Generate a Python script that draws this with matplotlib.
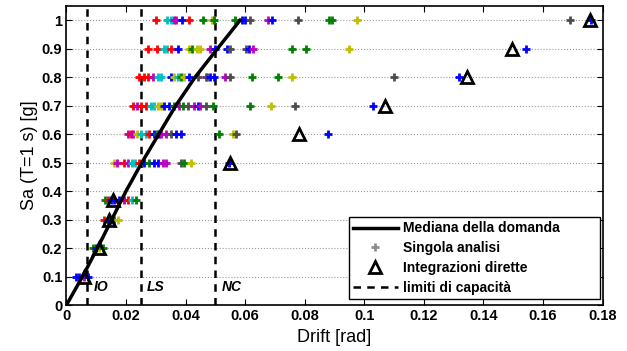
import numpy as np
import matplotlib.pyplot as plt
from matplotlib.lines import Line2D
from matplotlib.ticker import FormatStrFormatter

plt.rcParams['font.family'] = ['Liberation Sans', 'DejaVu Sans']

# MATLAB old default colour order
pal = {
    'b': (0, 0, 1), 'g': (0, 0.5, 0), 'r': (1, 0, 0), 'c': (0, 0.75, 0.75),
    'm': (0.75, 0, 0.75), 'y': (0.75, 0.75, 0), 'k': (0.3, 0.3, 0.3),
}

sa_levels = [0.1, 0.2, 0.3, 0.37, 0.5, 0.6, 0.7, 0.8, 0.9, 1.0]

drift_01 = [0.0033, 0.0043, 0.006, 0.0073]
color_01 = ['b', 'b', 'm', 'b']
drift_02 = [0.009, 0.010, 0.011, 0.0123]
color_02 = ['g', 'b', 'y', 'g']
drift_03 = [0.0127, 0.014, 0.015, 0.016, 0.0173]
color_03 = ['r', 'b', 'b', 'g', 'y']
drift_037 = [0.013, 0.014, 0.015, 0.016, 0.0177, 0.0193, 0.0207, 0.022, 0.0233]
color_037 = ['g', 'r', 'b', 'b', 'b', 'm', 'r', 'c', 'g']
drift_05 = [0.016, 0.017, 0.0193, 0.0207, 0.022, 0.023, 0.0243, 0.026, 0.0277,
            0.0293, 0.0307, 0.0323, 0.0333, 0.0383, 0.0393, 0.0417, 0.0547]
color_05 = ['y', 'm', 'r', 'm', 'c', 'c', 'r', 'b', 'g',
            'b', 'b', 'm', 'm', 'k', 'g', 'y', 'b']
drift_06 = [0.0207, 0.0217, 0.0223, 0.0237, 0.025, 0.0267, 0.0277, 0.0293, 0.0303,
            0.031, 0.0317, 0.0333, 0.035, 0.0367, 0.0383, 0.0513, 0.056, 0.057, 0.0877]
color_06 = ['m', 'r', 'm', 'y', 'c', 'c', 'r', 'b', 'g',
            'b', 'm', 'm', 'k', 'b', 'b', 'g', 'y', 'k', 'b']
drift_07 = [0.0223, 0.0237, 0.025, 0.0267, 0.0283, 0.0293, 0.0307, 0.0317, 0.0327,
            0.0343, 0.036, 0.0377, 0.039, 0.0407, 0.0427, 0.044, 0.045, 0.0467,
            0.0493, 0.0617, 0.0687, 0.0767, 0.103]
color_07 = ['r', 'm', 'r', 'r', 'c', 'c', 'y', 'y', 'b',
            'b', 'g', 'm', 'g', 'k', 'm', 'b', 'm', 'k',
            'g', 'g', 'y', 'k', 'b']
drift_08 = [0.0243, 0.026, 0.0273, 0.029, 0.0307, 0.0317, 0.035, 0.036, 0.0373,
            0.0383, 0.0393, 0.041, 0.0443, 0.0467, 0.0473, 0.0483, 0.0497, 0.0533,
            0.055, 0.0623, 0.071, 0.0757, 0.11, 0.1317]
color_08 = ['r', 'r', 'r', 'm', 'c', 'c', 'b', 'y', 'c',
            'g', 'y', 'b', 'k', 'm', 'k', 'b', 'b', 'm',
            'k', 'g', 'g', 'y', 'k', 'b']
drift_09 = [0.0273, 0.0303, 0.0327, 0.0337, 0.035, 0.0373, 0.041, 0.0423, 0.0437,
            0.0447, 0.0483, 0.05, 0.054, 0.055, 0.0603, 0.0613, 0.0627, 0.0757,
            0.0803, 0.0947, 0.1543]
color_09 = ['r', 'r', 'c', 'c', 'r', 'b', 'y', 'g', 'y',
            'y', 'm', 'b', 'b', 'k', 'k', 'b', 'm', 'g',
            'g', 'y', 'b']
drift_10 = [0.030, 0.0337, 0.035, 0.036, 0.0367, 0.0387, 0.0413, 0.046, 0.049,
            0.0497, 0.0567, 0.059, 0.060, 0.0617, 0.0677, 0.069, 0.0777, 0.0883,
            0.0893, 0.0977, 0.169, 0.176]
color_10 = ['r', 'c', 'c', 'm', 'm', 'b', 'r', 'g', 'y',
            'g', 'g', 'b', 'b', 'k', 'm', 'b', 'k', 'g',
            'g', 'y', 'k', 'b']

drift_rows = [drift_01, drift_02, drift_03, drift_037, drift_05,
              drift_06, drift_07, drift_08, drift_09, drift_10]
color_rows = [color_01, color_02, color_03, color_037, color_05,
              color_06, color_07, color_08, color_09, color_10]

# direct integrations
direct_drift = [0.0058, 0.0109, 0.0144, 0.0156, 0.0548, 0.0781, 0.107, 0.1344, 0.1497, 0.1759]

# median demand curve
median_sa = [0, 0.1, 0.2, 0.3, 0.4, 0.5, 0.6, 0.7, 0.8, 0.9, 1.0]
median_drift = [0, 0.0054, 0.0104, 0.0152, 0.0200, 0.0253, 0.031, 0.0367, 0.0432, 0.0507, 0.0583]

limits = [0.007, 0.025, 0.05]
limit_names = ['IO', 'LS', 'NC']

fig = plt.figure(figsize=(6.27, 3.51), dpi=100)
ax = fig.add_axes([0.106, 0.131, 0.855, 0.852])

for sa, xs, cs in zip(sa_levels, drift_rows, color_rows):
    for x, c in zip(xs, cs):
        ax.plot(x, sa, '+', color=pal[c], ms=6, mew=2, zorder=3)

ax.plot(median_drift, median_sa, '-', color='k', lw=2.5, zorder=4)
ax.plot(direct_drift, sa_levels, '^', mfc='none', mec='k', mew=2, ms=9, zorder=5)

for xl, name in zip(limits, limit_names):
    ax.axvline(xl, color='k', ls='--', lw=1.8, dashes=(3, 2.5), zorder=2)
    ax.text(xl + 0.002, 0.065, name, fontsize=10, fontweight='bold',
            fontstyle='italic', ha='left', va='center')

ax.set_xlim(0, 0.18)
ax.set_ylim(0, 1.05)
ax.set_xticks(np.arange(0, 0.181, 0.02))
ax.set_yticks(np.arange(0, 1.01, 0.1))
ax.xaxis.set_major_formatter(FormatStrFormatter('%g'))
ax.yaxis.set_major_formatter(FormatStrFormatter('%g'))
ax.yaxis.grid(True, ls=':', color='0.6', lw=0.8)
ax.set_axisbelow(True)
ax.tick_params(direction='in', top=True, right=True, length=4, labelsize=10.5, pad=3)
for lab in ax.get_xticklabels() + ax.get_yticklabels():
    lab.set_fontweight('bold')
for sp in ax.spines.values():
    sp.set_linewidth(1.2)

ax.set_xlabel('Drift [rad]', fontsize=13, labelpad=4)
ax.set_ylabel('Sa (T=1 s) [g]', fontsize=13, labelpad=3)

handles = [
    Line2D([], [], color='k', lw=2.5),
    Line2D([], [], ls='none', marker='+', color='0.55', ms=6, mew=2),
    Line2D([], [], ls='none', marker='^', mfc='none', mec='k', mew=2, ms=9),
    Line2D([], [], color='k', ls='--', lw=1.8, dashes=(3, 2.5)),
]
labels = ['Mediana della domanda', 'Singola analisi', 'Integrazioni dirette', 'limiti di capacità']
leg = ax.legend(handles, labels, loc='lower left', bbox_to_anchor=(0.527, 0.02, 0.469, 0.27),
                mode='expand', fontsize=10, fancybox=False, framealpha=1, edgecolor='k',
                borderaxespad=0, handlelength=3.2, handletextpad=0.4,
                labelspacing=0.42, borderpad=0.3)
leg.get_frame().set_linewidth(1.0)
for t in leg.get_texts():
    t.set_fontweight('bold')

fig.savefig('out.png', dpi=100)
